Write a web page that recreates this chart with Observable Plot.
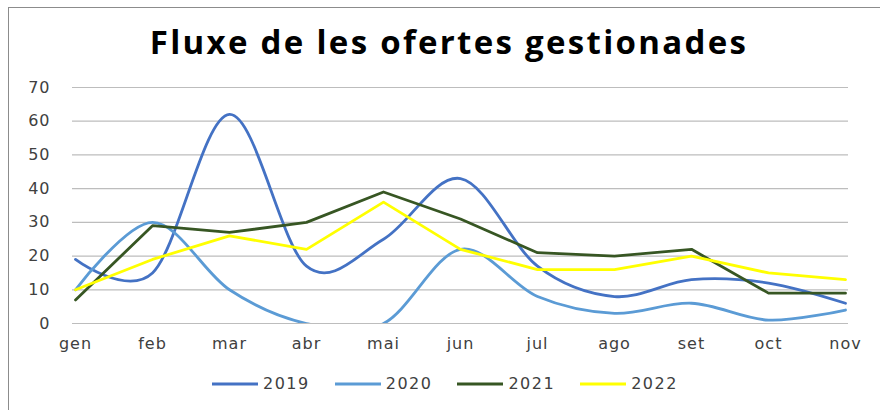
<!DOCTYPE html>
<html>
<head>
<meta charset="utf-8">
<script src="https://cdn.jsdelivr.net/npm/d3@7"></script>
<script src="https://cdn.jsdelivr.net/npm/@observablehq/plot@0.6"></script>
<style>
  html, body { margin: 0; padding: 0; background: #fff; }
  #wrap { position: relative; width: 880px; height: 410px; overflow: hidden; background: #fff; }
  #frame { position: absolute; left: 8px; top: 7px; width: 900px; height: 420px;
           border-left: 1.5px solid #8c8c8c; border-top: 1.5px solid #8c8c8c; box-sizing: border-box; }
  #title { position: absolute; left: 0; top: 22px; width: 898px; text-align: center;
           font-family: "Open Sans", sans-serif; font-weight: 700; font-size: 33px; letter-spacing: 2.3px;
           line-height: 40px; color: #000; }
  #chart { position: absolute; left: 0; top: 70px; }
  #legend { position: absolute; left: 212px; top: 374px; display: flex; gap: 25px;
            font-family: "DejaVu Sans", sans-serif; font-size: 16px; color: #404040; letter-spacing: 1.5px; }
  .item { display: flex; align-items: center; gap: 5px; }
</style>
</head>
<body>
<div id="wrap">
  <div id="frame"></div>
  <div id="title">Fluxe de les ofertes gestionades</div>
  <div id="chart"></div>
  <div id="legend"></div>
</div>
<script>
const months = ["gen", "feb", "mar", "abr", "mai", "jun", "jul", "ago", "set", "oct", "nov"];
const years = ["2019", "2020", "2021", "2022"];
const v2019 = [19, 15, 62, 17, 25, 43, 17, 8, 13, 12, 6];
const v2020 = [10, 30, 10, 0, 0, 22, 8, 3, 6, 1, 4];
const v2021 = [7, 29, 27, 30, 39, 31, 21, 20, 22, 9, 9];
const v2022 = [10, 19, 26, 22, 36, 22, 16, 16, 20, 15, 13];
const yTicks = [0, 10, 20, 30, 40, 50, 60, 70];
const colors = ["#4472C4", "#5B9BD5", "#375623", "#FFFF00"];

const seriesValues = [v2019, v2020, v2021, v2022];
const rows = (i) => months.map((m, j) => ({month: m, value: seriesValues[i][j], year: years[i]}));
const curves = ["cardinal", "cardinal", "linear", "linear"];

const chart = Plot.plot({
  width: 880,
  height: 295,
  marginTop: 17,
  marginBottom: 42,
  marginLeft: 72,
  marginRight: 32,
  style: {fontFamily: "DejaVu Sans, sans-serif", fontSize: "16px", color: "#404040", background: "transparent", letterSpacing: "1px"},
  x: {type: "point", domain: months, padding: 0, label: null},
  y: {domain: [0, 70], ticks: yTicks, label: null},
  marks: [
    Plot.ruleY(yTicks, {stroke: "#bdbdbd", strokeWidth: 1.2}),
    Plot.axisY({ticks: yTicks, tickSize: 0, tickPadding: 22, label: null, tickFormat: d => String(d)}),
    Plot.axisX({tickSize: 0, tickPadding: 14, label: null}),
    ...years.map((y, i) => Plot.line(rows(i), {
      x: "month", y: "value", stroke: colors[i], strokeWidth: 2.8,
      curve: curves[i], clip: i === 1
    }))
  ]
});
document.getElementById("chart").appendChild(chart);

const legend = document.getElementById("legend");
years.forEach((y, i) => {
  const item = document.createElement("div");
  item.className = "item";
  item.innerHTML = `<svg width="46" height="6"><line x1="0" x2="46" y1="3" y2="3" stroke="${colors[i]}" stroke-width="2.8"/></svg><span>${y}</span>`;
  legend.appendChild(item);
});
</script>
</body>
</html>
